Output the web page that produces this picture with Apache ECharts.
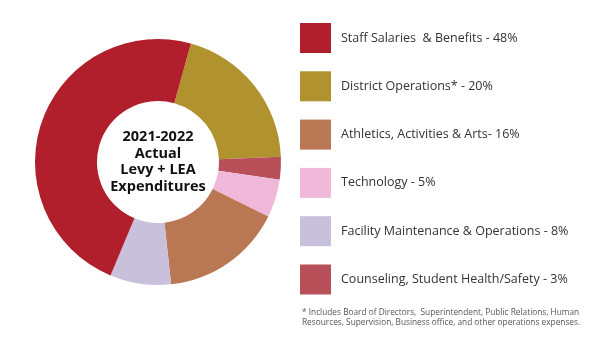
<!DOCTYPE html>
<html>
<head>
<meta charset="utf-8">
<script src="https://cdn.jsdelivr.net/npm/echarts@6/dist/echarts.min.js"></script>
<style>
  html, body { margin: 0; padding: 0; background: #ffffff; }
  #chart { width: 600px; height: 340px; }
</style>
</head>
<body>
<div id="chart"></div>
<script>
// Expenditure categories (legend order) and their percentage shares
const categories = [
  "Staff Salaries  & Benefits",
  "District Operations*",
  "Athletics, Activities & Arts",
  "Technology",
  "Facility Maintenance & Operations",
  "Counseling, Student Health/Safety"
];
const shares = [48, 20, 16, 5, 8, 3];
const separators = [" - ", " - ", "- ", " - ", " - ", " - "];
const colors = ["#B11F2D", "#B0922F", "#B97753", "#F0B9D9", "#C9C0DC", "#B8505A"];

// Order in which the slices run clockwise around the ring
const ringOrder = [1, 5, 3, 2, 4, 0];

const centerLines = ["2021-2022", "Actual", "Levy + LEA", "Expenditures"];
const footnoteLines = [
  "* Includes Board of Directors,  Superintendent, Public Relations, Human",
  "Resources, Supervision, Business office, and other operations expenses."
];

const labelOf = {};
categories.forEach((c, i) => { labelOf[c] = c + separators[i] + shares[i] + "%"; });

const pieData = ringOrder.map(i => ({
  name: categories[i],
  value: shares[i],
  itemStyle: { color: colors[i] }
}));

const chart = echarts.init(document.getElementById("chart"), null, { renderer: "canvas" });
chart.setOption({
  animation: false,
  backgroundColor: "#ffffff",
  textStyle: { fontFamily: "Open Sans" },
  legend: {
    orient: "vertical",
    left: 300,
    top: 23,
    padding: 0,
    itemWidth: 31,
    itemHeight: 30,
    itemGap: 18.3,
    icon: "rect",
    selectedMode: false,
    data: categories,
    formatter: name => labelOf[name],
    textStyle: { fontFamily: "Open Sans", fontSize: 12.5, color: "#333333", padding: [0, 0, 0, 5] }
  },
  graphic: [
    {
      type: "text",
      left: 302,
      top: 308,
      style: {
        text: footnoteLines.join("\n"),
        font: "8.3px 'Open Sans'",
        fill: "#555555",
        lineHeight: 10
      }
    }
  ],
  series: [
    {
      type: "pie",
      center: [158, 162],
      radius: [61, 123],
      startAngle: 74.5,
      clockwise: true,
      silent: true,
      label: {
        show: true,
        position: "center",
        formatter: () => centerLines.join("\n"),
        fontFamily: "Open Sans",
        fontWeight: "bold",
        fontSize: 14.5,
        lineHeight: 16.7,
        color: "#111111"
      },
      labelLine: { show: false },
      emphasis: { disabled: true },
      itemStyle: { borderWidth: 0 },
      data: pieData
    }
  ]
});
</script>
</body>
</html>
